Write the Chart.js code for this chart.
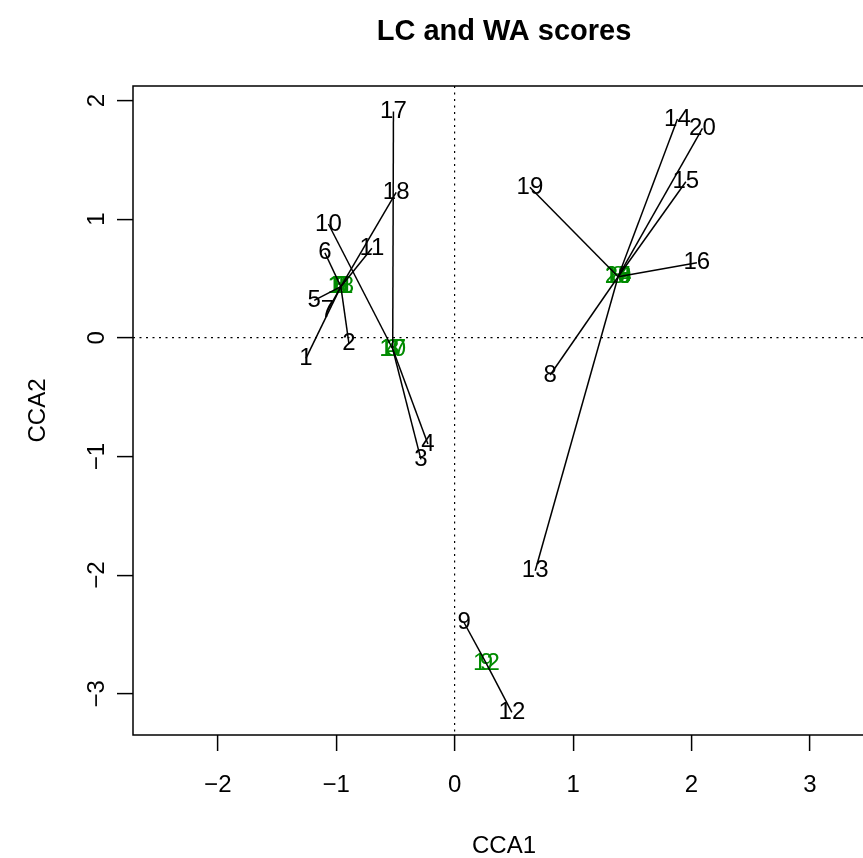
<!DOCTYPE html>
<html>
<head>
<meta charset="utf-8">
<title>LC and WA scores</title>
<script src="https://cdn.jsdelivr.net/npm/chart.js@4.4.1/dist/chart.umd.min.js"></script>
<style>
  html, body { margin: 0; padding: 0; background: #ffffff; overflow: hidden; }
  #wrap { position: absolute; left: 0; top: 0; width: 863px; height: 858px; overflow: hidden; }
  canvas { display: block; }
</style>
</head>
<body>
<div id="wrap"><canvas id="c" width="900" height="858"></canvas></div>
<script>
// Site labels and their scores on the first two constrained axes
const siteLabels = ['1','2','3','4','5','6','7','8','9','10','11','12','13','14','15','16','17','18','19','20'];

// Weighted-average (WA) site scores
const waX = [-1.256, -0.893, -0.285, -0.226, -1.186, -1.096, -1.074, 0.806, 0.080, -1.066,
             -0.699, 0.483, 0.680, 1.881, 1.952, 2.045, -0.517, -0.494, 0.635, 2.092];
const waY = [-0.173, -0.046, -1.024, -0.895, 0.316, 0.717, 0.228, -0.313, -2.401, 0.959,
             0.754, -3.156, -1.963, 1.844, 1.315, 0.633, 1.907, 1.226, 1.268, 1.765];

// Linear-combination (LC) site scores
const lcX = [-0.961, -0.961, -0.523, -0.523, -0.961, -0.961, -0.961, 1.380, 0.268, -0.523,
             -0.961, 0.268, 1.380, 1.380, 1.380, 1.380, -0.523, -0.961, 1.380, 1.380];
const lcY = [0.431, 0.431, -0.094, -0.094, 0.431, 0.431, 0.431, 0.515, -2.746, -0.094,
             0.431, -2.746, 0.515, 0.515, 0.515, 0.515, -0.094, 0.431, 0.515, 0.515];

// Axis ticks and limits
const xTicks = [-2, -1, 0, 1, 2, 3];
const yTicks = [-3, -2, -1, 0, 1, 2];
const xLimits = [-2.716, 3.549];
const yLimits = [-3.347, 2.122];

const titleText = 'LC and WA scores';
const xTitle = 'CCA1';
const yTitle = 'CCA2';

const FONT = '"Liberation Sans", Arial, Helvetica, sans-serif';
const LC_COLOR = '#008B00';
const LINE_H = 29.5; // one margin line in px

function fmt(v) {
  return v < 0 ? '\u2212' + Math.abs(v) : String(v);
}

// Each site gets a segment from its WA score to its LC score
const segments = siteLabels.map((s, i) => ({
  label: s,
  data: [{ x: waX[i], y: waY[i] }, { x: lcX[i], y: lcY[i] }],
  showLine: true,
  borderColor: '#000000',
  borderWidth: 1.5,
  pointRadius: 0,
  pointHoverRadius: 0,
  fill: false
}));

const scorePlugin = {
  id: 'scoreText',
  beforeDatasetsDraw(chart) {
    const ctx = chart.ctx;
    const xs = chart.scales.x, ys = chart.scales.y;
    const a = chart.chartArea;
    ctx.save();
    ctx.beginPath();
    ctx.rect(a.left, a.top, a.right - a.left, a.bottom - a.top);
    ctx.clip();
    ctx.font = '24px ' + FONT;
    ctx.textAlign = 'center';
    ctx.textBaseline = 'middle';
    ctx.fillStyle = '#000000';
    siteLabels.forEach((s, i) => {
      ctx.fillText(s, xs.getPixelForValue(waX[i]), ys.getPixelForValue(waY[i]));
    });
    ctx.fillStyle = LC_COLOR;
    siteLabels.forEach((s, i) => {
      ctx.fillText(s, xs.getPixelForValue(lcX[i]), ys.getPixelForValue(lcY[i]));
    });
    ctx.restore();
  },
  afterDatasetsDraw(chart) {
    const ctx = chart.ctx;
    const a = chart.chartArea;
    ctx.save();
    ctx.strokeStyle = '#000000';
    ctx.lineWidth = 1.5;
    ctx.strokeRect(a.left, a.top, a.right - a.left, a.bottom - a.top);
    ctx.restore();
  },
  afterDraw(chart) {
    const ctx = chart.ctx;
    const a = chart.chartArea;
    const ys = chart.scales.y;
    const cx = (a.left + a.right) / 2;
    const cy = (a.top + a.bottom) / 2;
    ctx.save();
    ctx.fillStyle = '#000000';
    // main title
    ctx.font = 'bold 29px ' + FONT;
    ctx.textAlign = 'center';
    ctx.textBaseline = 'alphabetic';
    ctx.fillText(titleText, cx, 40);
    // x axis title
    ctx.font = '24px ' + FONT;
    ctx.fillText(xTitle, cx, a.bottom + 4 * LINE_H);
    // y tick labels, parallel to the axis
    ys.ticks.forEach(t => {
      ctx.save();
      ctx.translate(a.left - LINE_H, ys.getPixelForValue(t.value));
      ctx.rotate(-Math.PI / 2);
      ctx.fillText(fmt(t.value), 0, 0);
      ctx.restore();
    });
    // y axis title
    ctx.save();
    ctx.translate(a.left - 3 * LINE_H, cy);
    ctx.rotate(-Math.PI / 2);
    ctx.fillText(yTitle, 0, 0);
    ctx.restore();
    ctx.restore();
  }
};

const zeroGrid = {
  drawOnChartArea: true,
  drawTicks: true,
  tickLength: 16,
  tickWidth: 1.5,
  tickColor: '#000000',
  lineWidth: 1.2,
  color: (c) => (c.tick && c.tick.value === 0) ? '#000000' : 'rgba(0,0,0,0)'
};

new Chart(document.getElementById('c'), {
  type: 'scatter',
  data: { datasets: segments },
  options: {
    responsive: false,
    animation: false,
    devicePixelRatio: 1,
    events: [],
    layout: { padding: { left: 0, top: 86, right: 25, bottom: 0 } },
    plugins: {
      legend: { display: false },
      tooltip: { enabled: false },
      title: { display: false }
    },
    scales: {
      x: {
        type: 'linear',
        position: 'bottom',
        min: xLimits[0],
        max: xLimits[1],
        afterBuildTicks: (s) => { s.ticks = xTicks.map(v => ({ value: v })); },
        afterFit: (s) => { s.height = 123; },
        ticks: {
          autoSkip: false,
          maxRotation: 0,
          minRotation: 0,
          padding: 19.6,
          color: '#000000',
          font: { family: FONT, size: 24 },
          callback: (v) => fmt(v)
        },
        grid: zeroGrid,
        border: { display: false, dash: [2, 4.5] }
      },
      y: {
        type: 'linear',
        position: 'left',
        min: yLimits[0],
        max: yLimits[1],
        afterBuildTicks: (s) => { s.ticks = yTicks.map(v => ({ value: v })); },
        afterFit: (s) => { s.width = 133; },
        ticks: { display: false },
        grid: zeroGrid,
        border: { display: false, dash: [2, 4.5] }
      }
    }
  },
  plugins: [scorePlugin]
});
</script>
</body>
</html>
